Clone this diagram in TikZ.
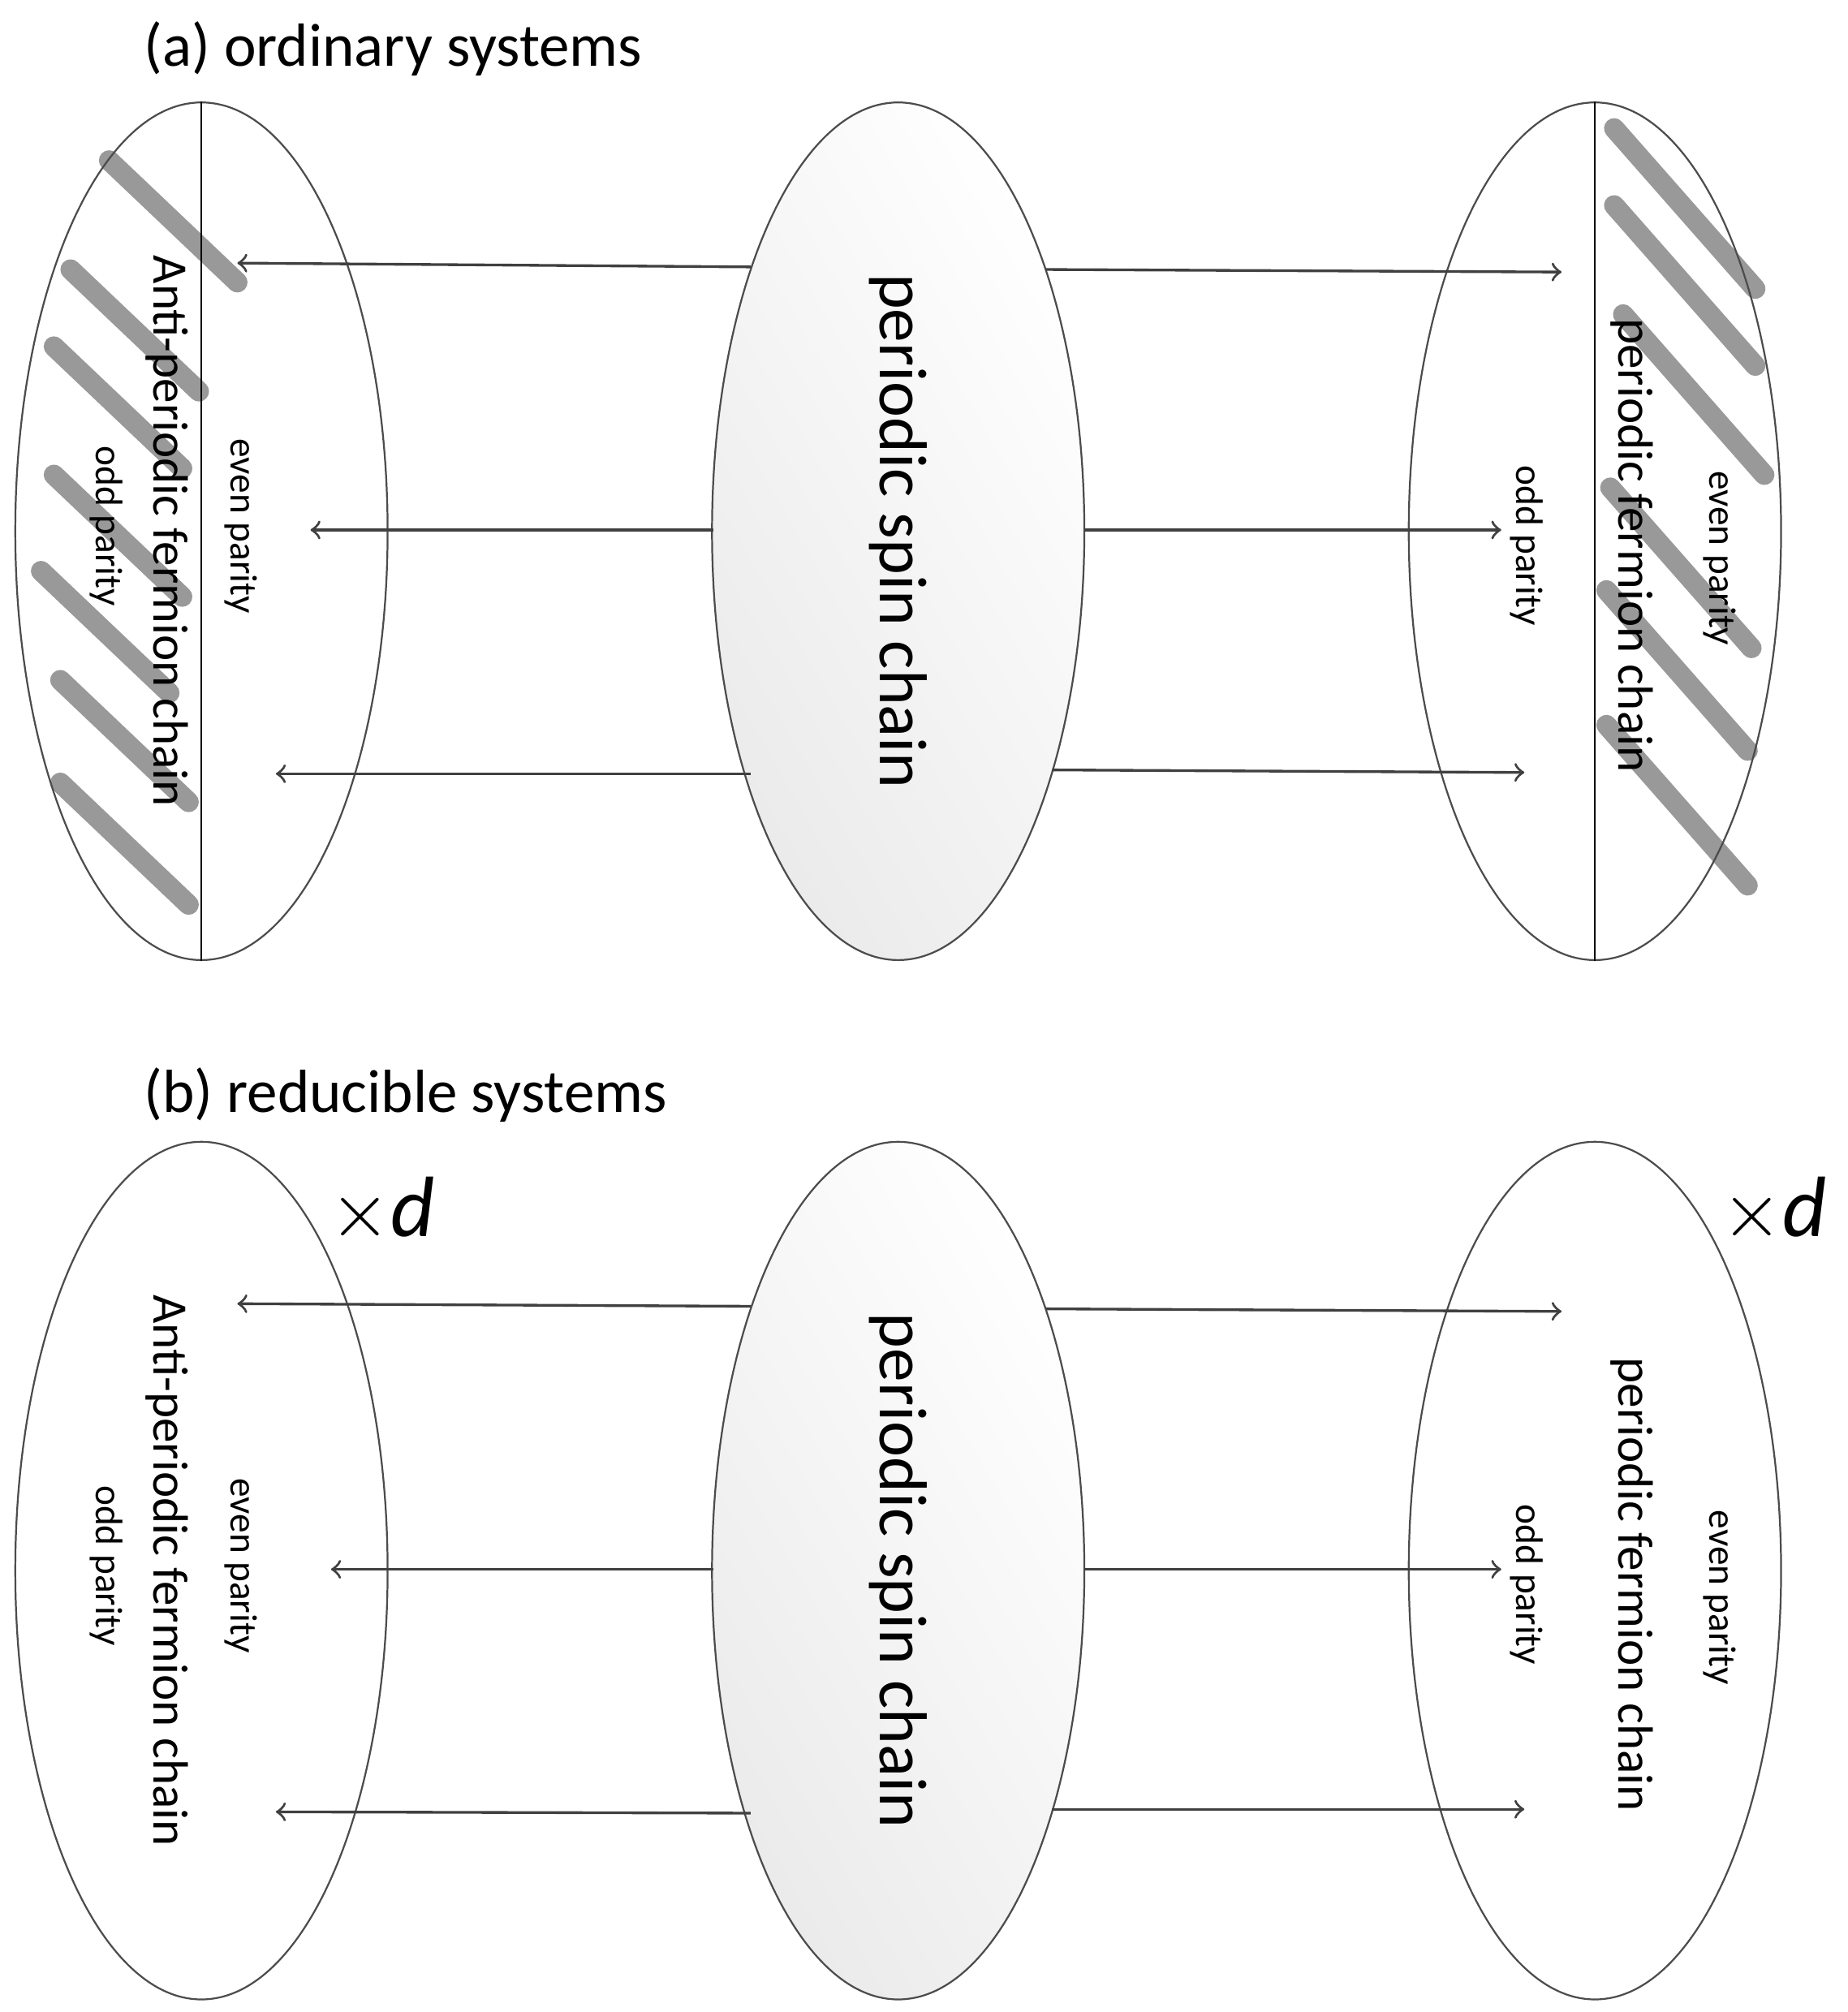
\documentclass[tikz,border=0pt]{standalone}
\usepackage{fontspec}
\setmainfont{Carlito}
\usetikzlibrary{shapes.geometric}

\tikzset{
	blob/.style={ellipse, draw=black!70, line width=0.4pt, minimum width=2.9cm, minimum height=6.68cm, inner sep=0pt},
	spin/.style={blob, top color=white, bottom color=black!8, shading angle=-60},
	hatch/.style={line width=4.5pt, black!40, line cap=round},
	link/.style={->, >=to, draw=black!75, line width=0.6pt},
	vtext/.style={rotate=-90, font=\fontsize{11}{13}\selectfont},
	ptext/.style={rotate=-90, font=\fontsize{8.5}{10}\selectfont},
	big/.style={rotate=-90, font=\fontsize{15}{17}\selectfont},
	title/.style={anchor=west, font=\fontsize{13.5}{15}\selectfont}
}

\begin{document}
\begin{tikzpicture}[x=0.01cm, y=-0.01cm]
	\useasboundingbox (0, 0) rectangle (1440, 1568);

	% (a) ordinary systems
	\node [title] (ta) at (100, 38) {(a) ordinary systems};

	\foreach \a/\b in {85/125, 55/210, 42/270, 42/370, 32/445, 47/530, 47/610} {
		\draw [hatch] (\a, \b) -- ++(100, 95);
	}
	\foreach \a/\b in {1258/100, 1258/160, 1265/245, 1255/380, 1252/460, 1252/565} {
		\draw [hatch] (\a, \b) -- ++(110, 125);
	}

	\node [blob] (La) at (157, 414) {};
	\node [spin] (Ca) at (700, 414) {};
	\node [blob] (Ra) at (1243, 414) {};
	\draw (La.north) -- (La.south);
	\draw (Ra.north) -- (Ra.south);

	\node [big] at (Ca) {periodic spin chain};
	\node [vtext] at (130, 414) {Anti-periodic fermion chain};
	\node [ptext] at (188, 410) {even parity};
	\node [ptext] at (83, 410) {odd parity};
	\node [vtext] at (1272, 425) {periodic fermion chain};
	\node [ptext] at (1340, 435) {even parity};
	\node [ptext] at (1190, 425) {odd parity};

	\coordinate (sa1) at (585, 208);
	\coordinate (sa2) at (556, 413);
	\coordinate (sa3) at (585, 603);
	\coordinate (sa4) at (815, 210);
	\coordinate (sa5) at (845, 413);
	\coordinate (sa6) at (820, 600);
	\coordinate (a1) at (185, 205);
	\coordinate (a2) at (242, 413);
	\coordinate (a3) at (215, 603);
	\coordinate (a4) at (1217, 212);
	\coordinate (a5) at (1170, 413);
	\coordinate (a6) at (1188, 602);
	\foreach \i in {1, ..., 6} {
		\draw [link] (sa\i) -- (a\i);
	}

	% (b) reducible systems
	\node [title] (tb) at (100, 853) {(b) reducible systems};

	\node [blob] (Lb) at (157, 1224) {};
	\node [spin] (Cb) at (700, 1224) {};
	\node [blob] (Rb) at (1243, 1224) {};

	\node [big] at (Cb) {periodic spin chain};
	\node [vtext] at (130, 1224) {Anti-periodic fermion chain};
	\node [ptext] at (188, 1220) {even parity};
	\node [ptext] at (83, 1220) {odd parity};
	\node [vtext] at (1272, 1235) {periodic fermion chain};
	\node [ptext] at (1340, 1245) {even parity};
	\node [ptext] at (1190, 1235) {odd parity};
	\node [font=\fontsize{19}{21}\selectfont] (da) at (298, 943) {$\times\mathit{d}$};
	\node [font=\fontsize{19}{21}\selectfont] (db) at (1383, 943) {$\times\mathit{d}$};

	\coordinate (sb1) at (585, 1018);
	\coordinate (sb2) at (556, 1223);
	\coordinate (sb3) at (585, 1413);
	\coordinate (sb4) at (815, 1020);
	\coordinate (sb5) at (845, 1223);
	\coordinate (sb6) at (820, 1410);
	\coordinate (b1) at (185, 1016);
	\coordinate (b2) at (258, 1223);
	\coordinate (b3) at (215, 1412);
	\coordinate (b4) at (1217, 1022);
	\coordinate (b5) at (1170, 1223);
	\coordinate (b6) at (1188, 1410);
	\foreach \i in {1, ..., 6} {
		\draw [link] (sb\i) -- (b\i);
	}
\end{tikzpicture}
\end{document}
